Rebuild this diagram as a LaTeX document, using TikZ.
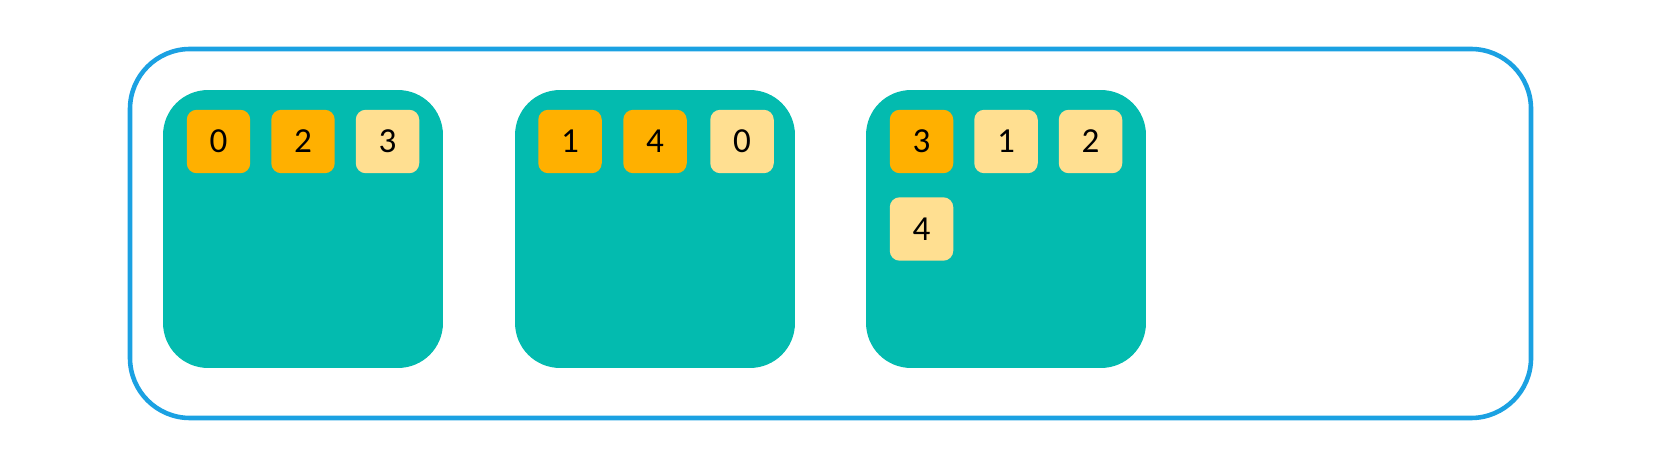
\documentclass[tikz,border=0pt]{standalone}
\usepackage{fontspec}
\setmainfont{Carlito}

\definecolor{frameblue}{HTML}{1BA1E2}
\definecolor{binteal}{HTML}{03BBAF}
\definecolor{hotorange}{HTML}{FFB000}
\definecolor{coldyellow}{HTML}{FFDF91}

\tikzset{
  bin/.style={fill=binteal, rounded corners=0.9cm, minimum width=5.6cm, minimum height=5.56cm, inner sep=0pt},
  hot/.style={fill=hotorange, rounded corners=0.2cm, minimum size=1.27cm, inner sep=0pt, font=\fontsize{20}{20}\selectfont},
  cold/.style={hot, fill=coldyellow}
}

\begin{document}
\begin{tikzpicture}[x=0.02cm, y=-0.02cm]
    \useasboundingbox (0,0) rectangle (1669,469);
    % outer frame
    \draw[frameblue, line width=2.6pt, rounded corners=1.2cm] (130,49) rectangle (1531,418);

    % bins
    \node[bin] (binA) at (303,229) {};
    \node[bin] (binB) at (655,229) {};
    \node[bin] (binC) at (1006,229) {};

    % items of bin A
    \node[hot]  (a0) at (218.5,141.5) {0};
    \node[hot]  (a1) at (303,141.5) {2};
    \node[cold] (a2) at (387.5,141.5) {3};

    % items of bin B
    \node[hot]  (b0) at (570,141.5) {1};
    \node[hot]  (b1) at (655,141.5) {4};
    \node[cold] (b2) at (742,141.5) {0};

    % items of bin C
    \node[hot]  (c0) at (921.5,141.5) {3};
    \node[cold] (c1) at (1006,141.5) {1};
    \node[cold] (c2) at (1090.5,141.5) {2};
    \node[cold] (c3) at (921.5,229) {4};
\end{tikzpicture}
\end{document}
